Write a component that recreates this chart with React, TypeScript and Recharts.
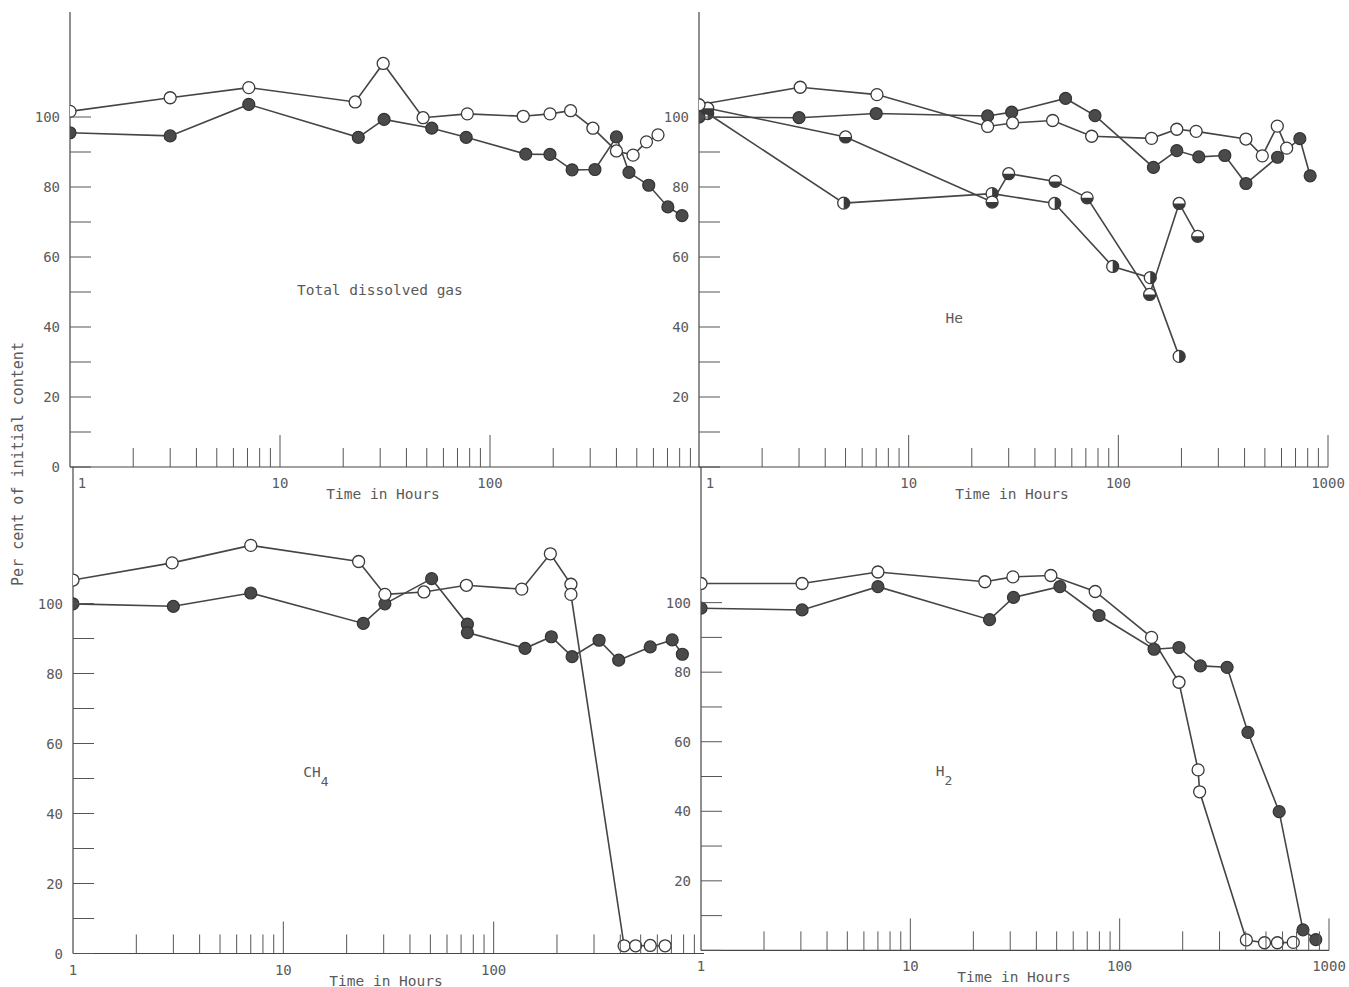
import { LineChart, Line, XAxis, YAxis, ReferenceDot } from 'recharts'

const FONT = '"DejaVu Sans Mono", monospace'
const INK = '#454545'
const TEXT = '#5a5a5a'

// axis ticks (log time axis, percent axis)
const xTicks = [1, 2, 3, 4, 5, 6, 7, 8, 9, 10, 20, 30, 40, 50, 60, 70, 80, 90, 100, 200, 300, 400, 500, 600, 700, 800, 900, 1000]
const yTicks = [0, 10, 20, 30, 40, 50, 60, 70, 80, 90, 100]
const xLabelValues = [1, 10, 100, 1000]
const xLabelText = ['1', '10', '100', '1000']
const yLabelValues = [0, 20, 40, 60, 80, 100]

// Total dissolved gas
const totalOpenHours = [1, 3, 7.1, 22.8, 31, 48, 78, 144, 193, 242, 309, 400, 480, 556, 631]
const totalOpenPct = [101.6, 105.5, 108.4, 104.3, 115.3, 99.8, 100.9, 100.2, 100.9, 101.8, 96.8, 90.3, 89.1, 92.9, 94.9]
const totalFilledHours = [1, 3, 7.1, 23.6, 31.3, 52.8, 77, 148, 193, 246, 316, 400, 459, 570, 703, 821]
const totalFilledPct = [95.5, 94.6, 103.6, 94.2, 99.3, 96.8, 94.2, 89.4, 89.3, 84.9, 85.0, 94.3, 84.2, 80.5, 74.3, 71.8]

// He
const heOpenHours = [1, 3.04, 7.06, 23.8, 31.3, 48.6, 74.6, 144, 190, 235, 406, 486, 573, 635]
const heOpenPct = [103.5, 108.5, 106.4, 97.3, 98.3, 99.0, 94.5, 93.9, 96.5, 95.9, 93.7, 88.9, 97.4, 91.1]
const heFilledHours = [1, 3, 7, 23.8, 31, 56, 77.4, 147, 190, 242, 322, 406, 575, 734, 822]
const heFilledPct = [100, 99.8, 101.0, 100.3, 101.4, 105.3, 100.4, 85.6, 90.4, 88.6, 89.0, 81.0, 88.5, 93.8, 83.2]
const heHalfBottomHours = [1.1, 5, 25, 30, 50, 71, 141, 195, 239]
const heHalfBottomPct = [102.5, 94.3, 75.7, 83.8, 81.6, 76.9, 49.3, 75.3, 65.9]
const heHalfRightHours = [1.1, 4.9, 25, 49.7, 94, 142, 195]
const heHalfRightPct = [101, 75.4, 78.1, 75.3, 57.3, 54.1, 31.6]

// CH4
const ch4OpenHours = [1, 2.96, 7, 22.8, 30.4, 46.6, 74.2, 136, 186, 233, 233, 417, 473, 555, 653]
const ch4OpenPct = [106.7, 111.6, 116.6, 112.0, 102.6, 103.3, 105.2, 104.1, 114.2, 105.5, 102.6, 2.2, 2.2, 2.3, 2.2]
const ch4FilledHours = [1, 3, 7, 24, 30.4, 50.7, 75, 75, 141, 188, 236, 317, 393, 555, 706, 789]
const ch4FilledPct = [99.9, 99.2, 103.0, 94.3, 99.9, 107.1, 94.1, 91.7, 87.2, 90.5, 84.8, 89.5, 83.8, 87.6, 89.6, 85.5]

// H2
const h2OpenHours = [1, 3.04, 7, 22.7, 30.9, 46.9, 76.4, 142, 192, 237, 241, 403, 492, 567, 675]
const h2OpenPct = [105.5, 105.5, 108.8, 106.0, 107.4, 107.8, 103.2, 90.0, 77.1, 51.9, 45.6, 3.0, 2.2, 2.2, 2.3]
const h2FilledHours = [1, 3.04, 7, 23.9, 31.1, 51.8, 79.7, 146, 192, 243, 326, 410, 578, 751, 865]
const h2FilledPct = [98.4, 97.9, 104.6, 95.1, 101.5, 104.6, 96.3, 86.6, 87.1, 81.8, 81.4, 62.7, 39.9, 5.9, 3.1]

type Pt = { x: number; y: number }
type Mark = 'open' | 'filled' | 'halfBottom' | 'halfRight'
const pts = (hours: number[], pct: number[]): Pt[] => hours.map((x, i) => ({ x, y: pct[i] }))

const Marker = ({ cx, cy, kind }: { cx: number; cy: number; kind: Mark }) => {
  const r = 6
  if (cx == null || cy == null) return null
  if (kind === 'filled') {
    return <circle cx={cx} cy={cy} r={r} fill="#4a4a4a" stroke="#333" strokeWidth={1.2} />
  }
  let half: string | null = null
  if (kind === 'halfBottom') half = `M${cx - r},${cy} A${r},${r} 0 0 0 ${cx + r},${cy} Z`
  if (kind === 'halfRight') half = `M${cx},${cy - r} A${r},${r} 0 0 1 ${cx},${cy + r} Z`
  return (
    <g>
      <circle cx={cx} cy={cy} r={r} fill="#fff" />
      {half && <path d={half} fill="#3a3a3a" />}
      <circle cx={cx} cy={cy} r={r} fill="none" stroke="#3a3a3a" strokeWidth={1.3} />
    </g>
  )
}

const XTick = ({ x, y, payload, oneShift, showEnd }: any) => {
  const v = payload.value
  const li = xLabelValues.indexOf(v)
  const major = li >= 0
  const drawLine = v !== 1 && (v !== 1000 || showEnd)
  const label = major && (v !== 1000 || showEnd) ? xLabelText[li] : null
  return (
    <g>
      {drawLine && <line x1={x} x2={x} y1={y} y2={y - (major ? 32 : 19)} stroke="#555" strokeWidth={1} />}
      {label && (
        <text x={x + (v === 1 ? oneShift : 0)} y={y + 16} textAnchor="middle" dominantBaseline="central"
          fontFamily={FONT} fontSize={14} fill={TEXT}>{label}</text>
      )}
    </g>
  )
}

const YTick = ({ x, y, payload, showZero }: any) => {
  const v = payload.value
  const labelled = yLabelValues.includes(v) && (v !== 0 || showZero)
  return (
    <g>
      <line x1={x} x2={x + 21} y1={y} y2={y} stroke="#555" strokeWidth={1} />
      {labelled && (
        <text x={x - 10} y={y} textAnchor="end" dominantBaseline="central"
          fontFamily={FONT} fontSize={14} fill={TEXT}>{v}</text>
      )}
    </g>
  )
}

type Title = { x: number; y: number; text: string; sub?: string }
type PanelProps = {
  plotLeft: number
  plotTop: number
  plotW: number
  plotH: number
  yMax: number
  marginTop: number
  oneShift: number
  showEnd: boolean
  showZero: boolean
  series: { data: Pt[]; mark: Mark }[]
  title: Title
  yTitle?: boolean
}

function Panel(p: PanelProps) {
  const right = 28
  const width = 70 + p.plotW + right
  const height = p.marginTop + p.plotH + 45
  return (
    <div style={{ position: 'absolute', left: p.plotLeft - 70, top: p.plotTop - p.marginTop }}>
      <LineChart width={width} height={height} margin={{ top: p.marginTop, right, bottom: 0, left: 0 }}>
        <XAxis
          type="number"
          dataKey="x"
          scale="log"
          domain={[1, 1000]}
          allowDataOverflow
          ticks={xTicks}
          interval={0}
          tickSize={0}
          tickMargin={0}
          height={45}
          tickLine={false}
          axisLine={{ stroke: INK, strokeWidth: 1.2 }}
          tick={(t: any) => <XTick {...t} oneShift={p.oneShift} showEnd={p.showEnd} />}
          label={(lp: any) => {
            const vb = lp.viewBox || { x: 70, y: p.marginTop + p.plotH }
            return (
              <text x={vb.x + 313} y={vb.y + 27} textAnchor="middle" dominantBaseline="central"
                fontFamily={FONT} fontSize={14.5} fill={TEXT}>Time in Hours</text>
            )
          }}
        />
        <YAxis
          type="number"
          domain={[0, p.yMax]}
          allowDataOverflow
          ticks={yTicks}
          interval={0}
          width={70}
          tickSize={0}
          tickMargin={0}
          tickLine={false}
          axisLine={{ stroke: INK, strokeWidth: 1.2 }}
          tick={(t: any) => <YTick {...t} showZero={p.showZero} />}
          label={p.yTitle ? (lp: any) => {
            const vb = lp.viewBox || { x: 0, y: p.marginTop }
            const cx = vb.x + 15
            const cy = vb.y - 3
            return (
              <text x={cx} y={cy} transform={`rotate(-90 ${cx} ${cy})`} textAnchor="middle" dominantBaseline="central"
                fontFamily={FONT} fontSize={15} fill={TEXT}>Per cent of initial content</text>
            )
          } : undefined}
        />
        {p.series.map((s, i) => (
          <Line
            key={i}
            data={s.data}
            dataKey="y"
            type="linear"
            stroke={INK}
            strokeWidth={1.6}
            isAnimationActive={false}
            activeDot={false}
            dot={(d: any) => <Marker key={`${i}-${d.index}`} cx={d.cx} cy={d.cy} kind={s.mark} />}
          />
        ))}
        <ReferenceDot
          x={p.title.x}
          y={p.title.y}
          r={0}
          fill="none"
          stroke="none"
          label={(lp: any) => {
            const vb = lp.viewBox || { x: 0, y: 0, width: 0, height: 0 }
            const cx = vb.x + (vb.width || 0) / 2
            const cy = vb.y + (vb.height || 0) / 2
            return (
              <text x={cx} y={cy} textAnchor="middle" dominantBaseline="central"
                fontFamily={FONT} fontSize={14.5} fill={TEXT}>
                {p.title.text}
                {p.title.sub && <tspan dy={9} fontSize={13}>{p.title.sub}</tspan>}
              </text>
            )
          }}
        />
      </LineChart>
    </div>
  )
}

export default function App() {
  return (
    <div style={{ position: 'absolute', left: 0, top: 0, width: 1349, height: 987, overflow: 'hidden', background: '#fff' }}>
      <Panel
        plotLeft={70} plotTop={11.7} plotW={630} plotH={455} yMax={130} marginTop={12}
        oneShift={12} showEnd={false} showZero
        series={[
          { data: pts(totalFilledHours, totalFilledPct), mark: 'filled' },
          { data: pts(totalOpenHours, totalOpenPct), mark: 'open' },
        ]}
        title={{ x: 29.9, y: 50.5, text: 'Total dissolved gas' }}
      />
      <Panel
        plotLeft={699} plotTop={11.7} plotW={629} plotH={455} yMax={130} marginTop={12}
        oneShift={11} showEnd showZero={false}
        series={[
          { data: pts(heHalfRightHours, heHalfRightPct), mark: 'halfRight' },
          { data: pts(heHalfBottomHours, heHalfBottomPct), mark: 'halfBottom' },
          { data: pts(heFilledHours, heFilledPct), mark: 'filled' },
          { data: pts(heOpenHours, heOpenPct), mark: 'open' },
        ]}
        title={{ x: 16.5, y: 42.5, text: 'He' }}
      />
      <Panel
        plotLeft={72.8} plotTop={466.8} plotW={631} plotH={486.5} yMax={139} marginTop={130}
        oneShift={0} showEnd={false} showZero yTitle
        series={[
          { data: pts(ch4FilledHours, ch4FilledPct), mark: 'filled' },
          { data: pts(ch4OpenHours, ch4OpenPct), mark: 'open' },
        ]}
        title={{ x: 14.3, y: 51.8, text: 'CH', sub: '4' }}
      />
      <Panel
        plotLeft={700.5} plotTop={467.1} plotW={628} plotH={483.4} yMax={139} marginTop={12}
        oneShift={0} showEnd showZero={false}
        series={[
          { data: pts(h2FilledHours, h2FilledPct), mark: 'filled' },
          { data: pts(h2OpenHours, h2OpenPct), mark: 'open' },
        ]}
        title={{ x: 14.5, y: 51.6, text: 'H', sub: '2' }}
      />
    </div>
  )
}
